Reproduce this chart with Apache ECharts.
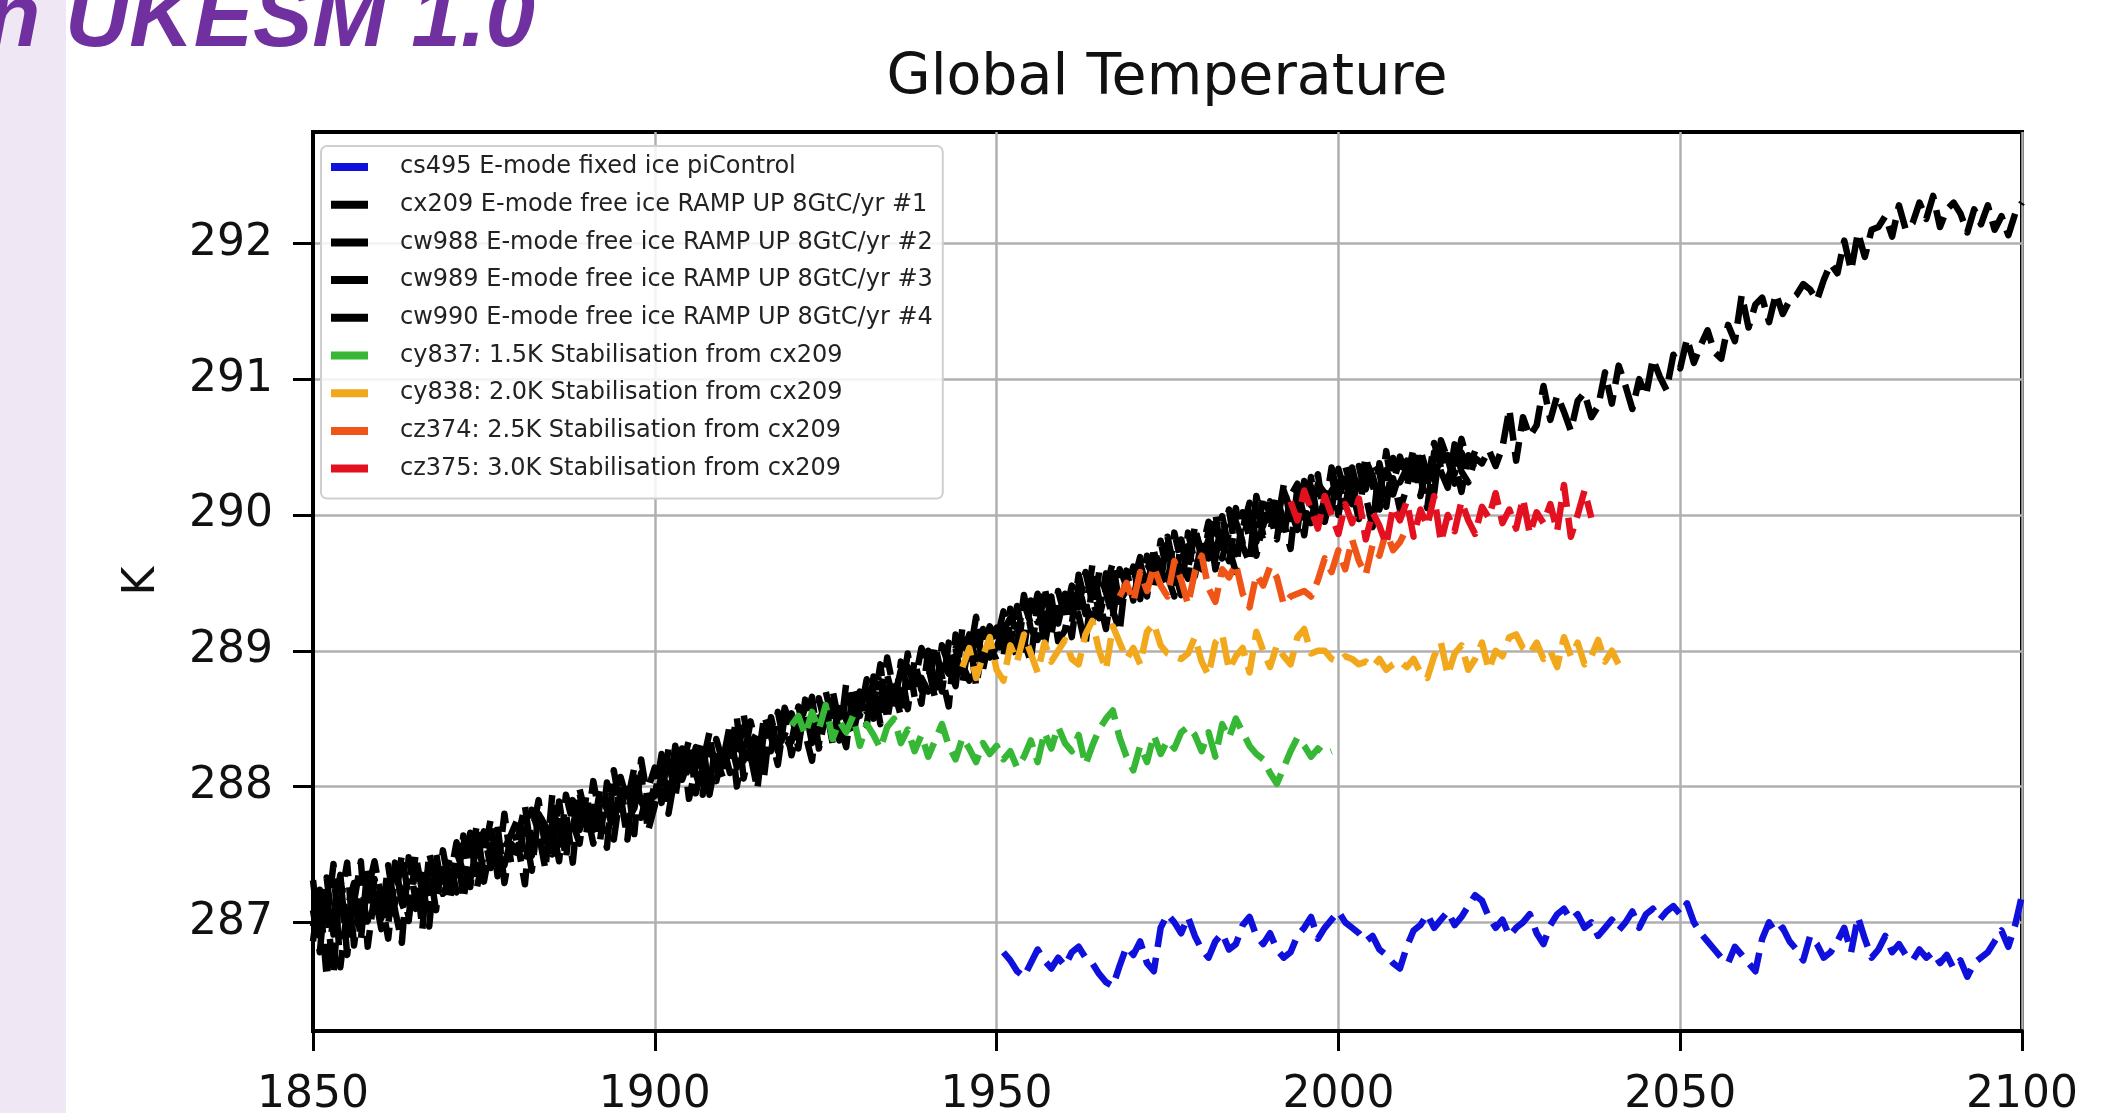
<!DOCTYPE html>
<html>
<head>
<meta charset="utf-8">
<script src="https://cdn.jsdelivr.net/npm/echarts@6/dist/echarts.min.js"></script>
<style>
html,body{margin:0;padding:0;background:#fff;}
#chart{width:2118px;height:1113px;}
</style>
</head>
<body>
<div id="chart"></div>
<script>
// ---------------- DATA ----------------
const chartTitle = 'Global Temperature';
const headingText = 'n UKESM 1.0';
const yAxisName = 'K';
const xTicks = [1850, 1900, 1950, 2000, 2050, 2100];
const yTicks = [287, 288, 289, 290, 291, 292];

const seriesNames = [
  'cs495 E-mode fixed ice piControl',
  'cx209 E-mode free ice RAMP UP 8GtC/yr #1',
  'cw988 E-mode free ice RAMP UP 8GtC/yr #2',
  'cw989 E-mode free ice RAMP UP 8GtC/yr #3',
  'cw990 E-mode free ice RAMP UP 8GtC/yr #4',
  'cy837: 1.5K Stabilisation from cx209',
  'cy838: 2.0K Stabilisation from cx209',
  'cz374: 2.5K Stabilisation from cx209',
  'cz375: 3.0K Stabilisation from cx209'
];
const startYears = [1951, 1850, 1850, 1850, 1850, 1920, 1945, 1968, 1993];

const cs495 = [
  286.78, 286.72, 286.64, 286.60, 286.70, 286.80, 286.72, 286.66, 286.74,
  286.68, 286.78, 286.82, 286.74, 286.70, 286.62, 286.56, 286.53, 286.68, 286.82,
  286.76, 286.86, 286.70, 286.64, 286.96, 287.06, 287.00, 286.92, 287.04, 286.90,
  286.80, 286.74, 286.86, 286.92, 286.80, 286.84, 286.98, 287.04, 286.90, 286.84,
  286.92, 286.80, 286.74, 286.78, 286.90, 286.96, 287.04, 286.88, 286.96, 287.02,
  287.08, 287.00, 286.96, 286.92, 286.86, 286.90, 286.80, 286.76, 286.70, 286.66,
  286.82, 286.94, 286.98, 287.06, 286.96, 287.02, 287.08, 286.98, 287.04, 287.12,
  287.20, 287.16, 287.04, 286.96, 287.02, 286.90, 286.96, 287.00, 287.06, 286.92,
  286.84, 286.98, 287.06, 287.10, 287.02, 287.06, 286.96, 287.00, 286.90, 286.96,
  287.02, 286.94, 287.00, 287.08, 286.96, 287.06, 287.10, 287.02, 287.08, 287.12,
  287.06, 287.14, 287.00, 286.92, 286.86, 286.80, 286.74, 286.70, 286.82, 286.76,
  286.70, 286.64, 286.88, 287.00, 286.92, 286.96, 286.86, 286.80, 286.72, 286.90,
  286.84, 286.74, 286.78, 286.86, 286.96, 286.78, 287.04, 286.88, 286.74, 286.80,
  286.90, 286.78, 286.84, 286.76, 286.72, 286.80, 286.74, 286.78, 286.70, 286.76,
  286.66, 286.72, 286.60, 286.70, 286.74, 286.78, 286.86, 286.94, 286.82, 286.98,
  287.20
];

const cx209 = [
  287.09, 286.78, 287.33, 286.91, 287.15, 287.44, 286.83, 287.21, 287.01, 287.32,
  287.03, 287.42, 287.09, 286.85, 287.48, 287.16, 287.30, 286.97, 287.51, 287.21,
  287.32, 287.59, 287.17, 287.48, 287.72, 287.30, 287.57, 287.37, 287.80, 287.43,
  287.57, 287.28, 287.83, 287.66, 287.39, 287.94, 287.57, 287.81, 287.44, 287.95,
  287.66, 288.04, 287.77, 287.55, 288.12, 287.83, 288.04, 287.65, 288.20, 287.90,
  287.93, 288.24, 287.80, 288.09, 288.32, 287.91, 288.15, 288.34, 287.94, 288.21,
  288.06, 288.36, 288.14, 288.53, 288.23, 287.98, 288.42, 288.26, 288.55, 288.30,
  288.33, 288.59, 288.39, 288.19, 288.65, 288.43, 288.71, 288.46, 288.29, 288.72,
  288.52, 288.79, 288.59, 288.90, 288.49, 288.79, 288.65, 288.98, 288.66, 288.80,
  288.70, 289.04, 288.81, 288.59, 289.12, 288.90, 288.78, 289.18, 288.91, 289.03,
  288.93, 289.22, 289.05, 289.33, 289.07, 288.92, 289.37, 289.15, 289.40, 289.07,
  289.15, 289.42, 289.26, 289.04, 289.50, 289.28, 289.57, 289.30, 289.14, 289.59,
  289.37, 289.65, 289.45, 289.74, 289.50, 289.84, 289.60, 289.41, 289.87, 289.65,
  289.60, 289.89, 289.67, 289.99, 289.75, 289.58, 290.02, 289.83, 290.10, 289.85,
  289.87, 290.13, 289.95, 289.75, 290.20, 289.98, 290.28, 289.93, 290.12, 290.31,
  290.00, 290.26, 290.05, 290.36, 290.14, 289.91, 290.38, 290.16, 290.27, 290.04,
  290.20, 290.43, 290.28, 290.05, 290.46, 290.32, 290.20, 290.52, 290.32, 290.24,
  290.42, 290.38, 290.48, 290.36, 290.50, 290.78, 290.40, 290.72, 290.58, 290.66,
  290.95, 290.70, 290.88, 290.76, 290.62, 290.84, 290.90, 290.72, 290.80, 291.05,
  290.82, 291.10, 290.95, 290.78, 291.00, 290.88, 291.15, 291.02, 290.92, 291.18,
  291.08, 291.30, 291.12, 291.25, 291.36, 291.20, 291.15, 291.40, 291.28, 291.62,
  291.38, 291.55, 291.60, 291.42, 291.63, 291.48, 291.58, 291.62, 291.70, 291.66,
  291.58, 291.73, 291.85, 291.78, 292.02, 291.80, 292.08, 291.90, 292.10, 292.12,
  292.20, 292.05, 292.28, 292.10, 292.15, 292.30, 292.18, 292.35, 292.12, 292.25,
  292.30, 292.22, 292.08, 292.25, 292.14, 292.28, 292.10, 292.20, 292.06, 292.22,
  292.30
];

const cw988 = [
  286.86, 287.24, 287.01, 287.43, 286.67, 287.10, 287.29, 286.87, 287.42, 287.08,
  287.29, 286.98, 287.44, 287.14, 287.01, 287.50, 287.22, 287.41, 287.09, 287.53,
  287.26, 287.52, 287.37, 287.66, 287.26, 287.50, 287.76, 287.34, 287.54, 287.65,
  287.77, 287.45, 287.64, 287.90, 287.54, 287.73, 287.45, 287.94, 287.73, 287.58,
  287.94, 287.68, 287.98, 287.83, 287.68, 288.07, 287.89, 288.14, 287.77, 287.98,
  288.14, 287.88, 288.28, 288.03, 288.15, 288.34, 287.95, 288.17, 288.40, 288.04,
  288.30, 288.10, 288.41, 288.19, 288.48, 288.27, 288.08, 288.51, 288.29, 288.38,
  288.54, 288.28, 288.64, 288.43, 288.31, 288.70, 288.49, 288.34, 288.76, 288.53,
  288.70, 288.45, 288.81, 288.61, 288.95, 288.70, 288.52, 288.88, 288.76, 289.02,
  288.89, 288.65, 289.04, 288.89, 288.74, 289.17, 288.95, 289.25, 288.86, 289.10,
  289.17, 288.95, 289.31, 289.06, 289.41, 289.16, 289.08, 289.47, 289.22, 289.30,
  289.36, 289.10, 289.49, 289.27, 289.63, 289.38, 289.16, 289.52, 289.36, 289.45,
  289.62, 289.38, 289.70, 289.48, 289.81, 289.55, 289.40, 289.82, 289.60, 289.89,
  289.73, 289.95, 289.60, 289.82, 290.04, 289.71, 289.90, 290.09, 289.80, 290.14,
  290.00, 289.82, 290.18, 290.04, 289.89, 290.25, 290.07, 290.30, 289.95, 290.18,
  290.24, 290.06, 290.35, 290.14, 290.43, 290.22, 290.04, 290.33, 290.22, 290.43,
  290.27, 290.49, 290.14, 290.37, 290.26, 290.52, 290.27, 290.40, 290.17, 290.44,
  290.33
];

const cw989 = [
  287.31, 286.90, 287.11, 286.62, 287.32, 287.00, 287.15, 287.45, 286.82, 287.21,
  286.95, 287.32, 287.14, 287.50, 287.18, 287.10, 287.35, 287.17, 287.42, 287.30,
  287.47, 287.22, 287.64, 287.32, 287.45, 287.67, 287.40, 287.51, 287.42, 287.62,
  287.63, 287.86, 287.49, 287.73, 287.68, 287.50, 287.89, 287.57, 287.69, 287.98,
  287.77, 287.85, 287.60, 288.03, 287.78, 287.93, 287.61, 288.11, 287.89, 287.78,
  288.03, 288.19, 287.94, 288.30, 288.05, 288.20, 288.09, 287.94, 288.30, 288.18,
  288.20, 288.46, 288.00, 288.29, 288.38, 288.16, 288.52, 288.37, 288.16, 288.52,
  288.23, 288.45, 288.58, 288.32, 288.48, 288.60, 288.32, 288.64, 288.49, 288.38,
  288.63, 288.55, 288.74, 288.46, 288.82, 288.63, 288.86, 288.57, 288.93, 288.71,
  288.80, 288.96, 288.70, 289.06, 288.85, 288.97, 289.12, 288.74, 289.03, 289.18,
  289.07, 289.29, 289.11, 288.95, 289.35, 289.20, 289.42, 289.03, 289.32, 289.20,
  289.42, 289.20, 289.56, 289.34, 289.22, 289.58, 289.43, 289.24, 289.60, 289.48,
  289.50, 289.69, 289.40, 289.75, 289.60, 289.48, 289.87, 289.65, 289.53, 289.92,
  289.67, 289.82, 290.01, 289.68, 289.87, 290.05, 289.77, 289.65, 290.14, 289.92,
  290.10, 289.92, 290.22, 289.97, 290.13, 289.85, 290.21, 290.13, 290.02, 290.35,
  290.13, 290.36, 290.18, 289.97, 290.40, 290.29, 290.11, 290.47, 290.15, 290.31,
  290.40, 290.22, 290.48, 290.30, 290.16, 290.55, 290.41, 290.23, 290.46, 290.34,
  290.47
];

const cw990 = [
  286.97, 287.19, 286.60, 287.06, 287.35, 286.76, 287.19, 286.99, 287.23, 287.45,
  287.17, 286.88, 287.34, 287.23, 287.04, 287.40, 286.95, 287.51, 287.29, 287.38,
  287.16, 287.45, 287.58, 287.26, 287.62, 287.36, 287.45, 287.71, 287.29, 287.58,
  287.50, 287.69, 287.38, 287.80, 287.71, 287.56, 287.79, 287.47, 287.90, 287.68,
  287.83, 287.58, 287.87, 287.93, 287.61, 287.97, 287.75, 287.84, 288.10, 287.67,
  287.86, 288.09, 288.21, 287.92, 288.28, 288.07, 288.29, 288.11, 287.99, 288.35,
  288.17, 288.25, 288.51, 288.06, 288.31, 288.40, 288.22, 288.48, 288.26, 288.58,
  288.43, 288.35, 288.51, 288.66, 288.28, 288.53, 288.62, 288.40, 288.66, 288.44,
  288.57, 288.72, 288.50, 288.76, 288.68, 288.56, 288.92, 288.71, 288.83, 288.61,
  289.00, 288.75, 288.91, 288.83, 289.02, 288.76, 289.09, 288.94, 289.16, 288.95,
  289.03, 289.15, 289.24, 289.16, 289.01, 289.37, 289.21, 289.27, 289.11, 289.44,
  289.25, 289.48, 289.32, 289.58, 289.36, 289.24, 289.46, 289.65, 289.33, 289.52,
  289.57, 289.45, 289.64, 289.55, 289.70, 289.79, 289.50, 289.68, 289.77, 289.55,
  289.80, 289.68, 289.90, 289.78, 289.66, 289.95, 289.80, 290.02, 289.70, 289.95,
  289.97, 290.06, 289.84, 290.14, 290.23, 290.05, 289.94, 290.23, 290.16, 290.04,
  290.34, 290.16, 290.08, 290.27, 290.19, 290.39, 290.31, 290.06, 290.42, 290.24,
  290.34, 290.29, 290.42, 290.20, 290.53, 290.35, 290.44, 290.30, 290.56, 290.38,
  290.40
];

const cy837 = [
  288.45, 288.52, 288.38, 288.55, 288.42, 288.60, 288.35, 288.48, 288.40, 288.52,
  288.30, 288.46, 288.38, 288.28, 288.44, 288.50, 288.32, 288.42, 288.26, 288.38,
  288.22, 288.34, 288.46, 288.30, 288.20, 288.36, 288.28, 288.18, 288.32, 288.24,
  288.30, 288.20, 288.26, 288.14, 288.22, 288.34, 288.18, 288.40, 288.28, 288.44,
  288.32, 288.26, 288.38, 288.16, 288.30, 288.42, 288.50, 288.56, 288.36, 288.22,
  288.12, 288.30, 288.18, 288.38, 288.24, 288.34, 288.28, 288.40, 288.44, 288.38,
  288.26, 288.40, 288.22, 288.46, 288.36, 288.50, 288.40, 288.30, 288.24, 288.20,
  288.10, 288.02, 288.14, 288.26, 288.36, 288.30, 288.22, 288.28, 288.24, 288.26
];

const cy838 = [
  288.88, 289.02, 288.80, 288.96, 289.10,
  288.86, 288.78, 289.04, 288.92, 289.12, 288.98, 288.84, 289.06, 288.92, 289.00,
  289.08, 288.94, 288.90, 289.12, 289.22, 289.00, 288.86, 289.18, 289.06, 288.94,
  289.02, 288.90, 289.14, 289.20, 289.04, 288.98, 288.96, 288.94, 288.98, 289.10,
  288.92, 288.82, 289.06, 289.12, 288.86, 288.96, 289.02, 288.84, 289.14, 289.00,
  288.88, 289.04, 288.96, 288.90, 289.10, 289.16, 288.98, 289.00, 289.00, 288.94,
  288.92, 288.96, 288.94, 288.90, 288.92, 288.88, 288.94, 288.86, 288.90, 288.92,
  288.88, 288.94, 288.84, 288.80, 288.96, 289.06, 288.82, 288.98, 289.04, 288.86,
  288.94, 289.06, 288.86, 289.00, 288.96, 289.10, 289.12, 289.02, 288.98, 289.06,
  288.94, 289.00, 288.88, 289.10, 288.96, 289.06, 288.90, 288.96, 289.08, 288.92,
  289.00, 288.90, 288.86
];

const cz374 = [
  289.40, 289.50,
  289.36, 289.58, 289.44, 289.62, 289.48, 289.40, 289.66, 289.52, 289.34, 289.58,
  289.70, 289.46, 289.36, 289.60, 289.54, 289.64, 289.42, 289.32, 289.56, 289.48,
  289.62, 289.54, 289.34, 289.40, 289.42, 289.44, 289.40, 289.52, 289.68, 289.58,
  289.74, 289.60, 289.82, 289.66, 289.56, 289.78, 289.70, 289.88, 289.74, 289.80,
  289.90
];

const cz375 = [
  290.10, 289.96, 290.18, 290.04, 289.90, 290.14, 290.00,
  289.86, 290.08, 289.94, 290.12, 289.82, 290.02, 289.92, 289.78, 290.06, 289.96,
  290.10, 289.84, 290.04, 289.92, 290.14, 289.80, 290.00, 289.88, 290.10, 289.96,
  289.86, 290.06, 289.98, 290.16, 289.94, 290.04, 289.90, 290.12, 289.86, 290.02,
  289.94, 290.08, 289.88, 290.22, 289.84, 290.00, 290.18, 289.98
];

const seriesValues = [cs495, cx209, cw988, cw989, cw990, cy837, cy838, cz374, cz375];

// ---------------- STYLE ----------------
const seriesColors = ['#1010dd', '#000000', '#000000', '#000000', '#000000',
                      '#36b836', '#f2a81d', '#f05518', '#e31020'];
const FONT = '"DejaVu Sans", sans-serif';

const chart = echarts.init(document.getElementById('chart'), null, {renderer: 'canvas'});

const series = seriesNames.map((name, k) => ({
  name: name,
  type: 'line',
  color: seriesColors[k],
  showSymbol: false,
  symbol: 'none',
  clip: true,
  data: seriesValues[k].map((v, i) => [startYears[k] + i, v]),
  lineStyle: { color: seriesColors[k], width: 6.5, type: [28, 11], join: 'round', cap: 'butt' },
  emphasis: { disabled: true },
  animation: false
}));

const option = {
  animation: false,
  backgroundColor: '#ffffff',
  grid: {
    left: 313, right: 96, top: 132, bottom: 82,
    containLabel: false,
    outerBoundsMode: 'none',
    show: true, borderColor: '#000', borderWidth: 4, backgroundColor: 'transparent'
  },
  xAxis: {
    type: 'value',
    min: xTicks[0], max: xTicks[xTicks.length - 1], interval: 50,
    axisLine: { show: true, lineStyle: { color: '#000', width: 4 } },
    axisTick: { show: true, length: 20, lineStyle: { color: '#000', width: 3 } },
    axisLabel: { margin: 43, fontSize: 44, fontFamily: FONT, color: '#111',
                 formatter: v => String(v), showMinLabel: true, showMaxLabel: true },
    splitLine: { show: true, lineStyle: { color: '#b0b0b0', width: 2.5 } }
  },
  yAxis: {
    type: 'value',
    min: 286.2, max: 292.82,
    axisLine: { show: true, lineStyle: { color: '#000', width: 4 } },
    axisTick: { show: true, length: 20, customValues: yTicks, lineStyle: { color: '#000', width: 3 } },
    axisLabel: { margin: 40, fontSize: 44, fontFamily: FONT, color: '#111', customValues: yTicks,
                 formatter: v => String(Math.round(v)) },
    splitLine: { show: true, lineStyle: { color: '#b0b0b0', width: 2.5 } }
  },
  legend: {
    orient: 'vertical',
    left: 321, top: 146,
    data: seriesNames,
    icon: 'rect',
    itemWidth: 37, itemHeight: 8,
    itemGap: 11.7,
    padding: [8, 10, 17, 10],
    backgroundColor: 'rgba(255,255,255,0.85)',
    borderColor: '#cfcfcf', borderWidth: 2, borderRadius: 6,
    itemStyle: { borderWidth: 0 },
    selectedMode: false,
    textStyle: { fontFamily: FONT, fontSize: 24, color: '#222', lineHeight: 26, padding: [0, 0, 0, 27] },
    z: 10
  },
  graphic: [
    { type: 'rect', z: -10, silent: true, shape: { x: 0, y: 0, width: 66, height: 1113 },
      style: { fill: '#efe8f4' } },
    { type: 'text', z: 5, silent: true, x: -14, y: 21,
      style: { text: headingText, fill: '#7030a0', font: 'italic bold 89px "Liberation Sans", Arial, sans-serif',
               textAlign: 'left', textVerticalAlign: 'middle' } },
    { type: 'text', z: 5, silent: true, x: 1167, y: 79,
      style: { text: chartTitle, fill: '#111', font: '57px "DejaVu Sans", sans-serif',
               textAlign: 'center', textVerticalAlign: 'middle' } },
    { type: 'text', z: 5, silent: true, x: 143, y: 581, rotation: Math.PI / 2,
      style: { text: yAxisName, fill: '#111', font: '44px "DejaVu Sans", sans-serif',
               textAlign: 'center', textVerticalAlign: 'middle' } }
  ],
  series: series
};

chart.setOption(option);
</script>
</body>
</html>
